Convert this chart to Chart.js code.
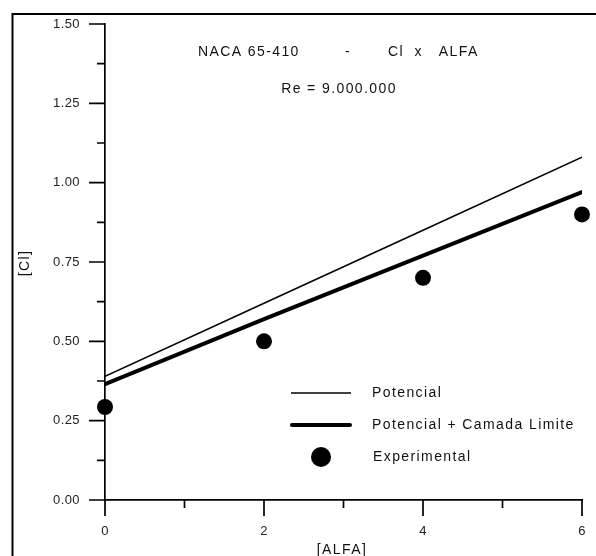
<!DOCTYPE html>
<html>
<head>
<meta charset="utf-8">
<script src="https://cdn.jsdelivr.net/npm/chart.js@4/dist/chart.umd.min.js"></script>
<style>
  html, body { margin: 0; padding: 0; background: #fff; }
</style>
</head>
<body>
<canvas id="c" width="596" height="556"></canvas>
<script>
// data
const alfa = [0, 2, 4, 6];
const potencial = [0.39, 0.62, 0.85, 1.08];
const camadaLimite = [0.365, 0.57, 0.77, 0.97];
const experimental = [0.293, 0.50, 0.70, 0.90];

const xTicks = [0, 2, 4, 6];
const yTicks = [0, 0.25, 0.5, 0.75, 1.0, 1.25, 1.5];

const FONT = "'Liberation Sans', Arial, sans-serif";
const INK = "#111";

const pts = (ys) => alfa.map((x, i) => ({ x: x, y: ys[i] }));

// frame, tick marks, titles and the inset legend
const decor = {
  id: "decor",
  beforeDraw(chart) {
    chart.ctx.letterSpacing = "0.4px";
  },
  afterDraw(chart) {
    const ctx = chart.ctx;
    const xs = chart.scales.x;
    const ys = chart.scales.y;
    const x0 = xs.getPixelForValue(0);
    const y0 = ys.getPixelForValue(0);

    ctx.save();
    ctx.strokeStyle = "#000";
    ctx.lineWidth = 2;
    ctx.strokeRect(12.5, 14, 700, 700);

    // y ticks (major 16px, minor 8px, to the left)
    ctx.beginPath();
    yTicks.forEach((v, i) => {
      const p = ys.getPixelForValue(v);
      ctx.moveTo(x0 - 16, p);
      ctx.lineTo(x0, p);
      if (i < yTicks.length - 1) {
        const m = ys.getPixelForValue((v + yTicks[i + 1]) / 2);
        ctx.moveTo(x0 - 8, m);
        ctx.lineTo(x0, m);
      }
    });
    // x ticks (downward)
    xTicks.forEach((v, i) => {
      const p = xs.getPixelForValue(v);
      ctx.moveTo(p, y0);
      ctx.lineTo(p, y0 + 16);
      if (i < xTicks.length - 1) {
        const m = xs.getPixelForValue((v + xTicks[i + 1]) / 2);
        ctx.moveTo(m, y0);
        ctx.lineTo(m, y0 + 8);
      }
    });
    ctx.lineWidth = 1.7;
    ctx.stroke();

    // titles
    ctx.fillStyle = INK;
    ctx.font = "14px " + FONT;
    ctx.letterSpacing = "1.4px";
    ctx.textBaseline = "middle";
    ctx.textAlign = "left";
    ctx.fillText("NACA 65-410", 198, 52);
    ctx.fillText("-", 345, 52);
    ctx.fillText("Cl  x   ALFA", 388, 52);
    ctx.textAlign = "center";
    ctx.fillText("Re = 9.000.000", 339, 89);
    ctx.fillText("[ALFA]", 342, 550);

    ctx.save();
    ctx.translate(25, 263);
    ctx.rotate(-Math.PI / 2);
    ctx.fillText("[Cl]", 0, 0);
    ctx.restore();

    // legend
    const ds = chart.data.datasets;
    const rows = [393, 425, 457];
    ctx.strokeStyle = "#000";
    ctx.lineWidth = ds[0].borderWidth;
    ctx.beginPath();
    ctx.moveTo(291, rows[0]);
    ctx.lineTo(351, rows[0]);
    ctx.stroke();
    ctx.lineWidth = ds[1].borderWidth;
    ctx.lineCap = "round";
    ctx.beginPath();
    ctx.moveTo(292, rows[1]);
    ctx.lineTo(350, rows[1]);
    ctx.stroke();
    ctx.fillStyle = "#000";
    ctx.beginPath();
    ctx.arc(321, rows[2], 10, 0, Math.PI * 2);
    ctx.fill();

    ctx.fillStyle = INK;
    ctx.textAlign = "left";
    ctx.fillText(ds[0].label, 372, rows[0]);
    ctx.fillText(ds[1].label, 372, rows[1]);
    ctx.fillText(ds[2].label, 373, rows[2]);
    ctx.restore();
  }
};

new Chart(document.getElementById("c"), {
  type: "line",
  data: {
    datasets: [
      {
        label: "Potencial",
        data: pts(potencial),
        borderColor: "#000",
        borderWidth: 1.5,
        pointRadius: 0,
        tension: 0
      },
      {
        label: "Potencial + Camada Limite",
        data: pts(camadaLimite),
        borderColor: "#000",
        borderWidth: 4,
        borderCapStyle: "round",
        pointRadius: 0,
        tension: 0
      },
      {
        label: "Experimental",
        data: pts(experimental),
        showLine: false,
        clip: false,
        pointRadius: 8,
        pointBackgroundColor: "#000",
        pointBorderWidth: 0
      }
    ]
  },
  options: {
    responsive: false,
    animation: false,
    layout: { padding: { left: 0, right: 14, top: 24, bottom: 0 } },
    plugins: {
      legend: { display: false },
      tooltip: { enabled: false }
    },
    scales: {
      x: {
        type: "linear",
        min: 0,
        max: 6,
        afterFit: (s) => { s.height = 56; s.paddingLeft = 0; s.paddingRight = 0; },
        afterBuildTicks: (s) => { s.ticks = xTicks.map(v => ({ value: v })); },
        grid: { display: false, drawTicks: false },
        border: { display: true, color: "#000", width: 1.7 },
        ticks: {
          padding: 24,
          color: "#222",
          font: { family: FONT, size: 13 },
          maxRotation: 0,
          callback: (v) => String(v)
        }
      },
      y: {
        min: 0,
        max: 1.5,
        afterFit: (s) => { s.width = 105; s.paddingTop = 0; s.paddingBottom = 0; },
        afterBuildTicks: (s) => { s.ticks = yTicks.map(v => ({ value: v })); },
        grid: { display: false, drawTicks: false },
        border: { display: true, color: "#000", width: 1.7 },
        ticks: {
          padding: 25,
          color: "#222",
          font: { family: FONT, size: 13 },
          callback: (v) => Number(v).toFixed(2)
        }
      }
    }
  },
  plugins: [decor]
});
</script>
</body>
</html>
